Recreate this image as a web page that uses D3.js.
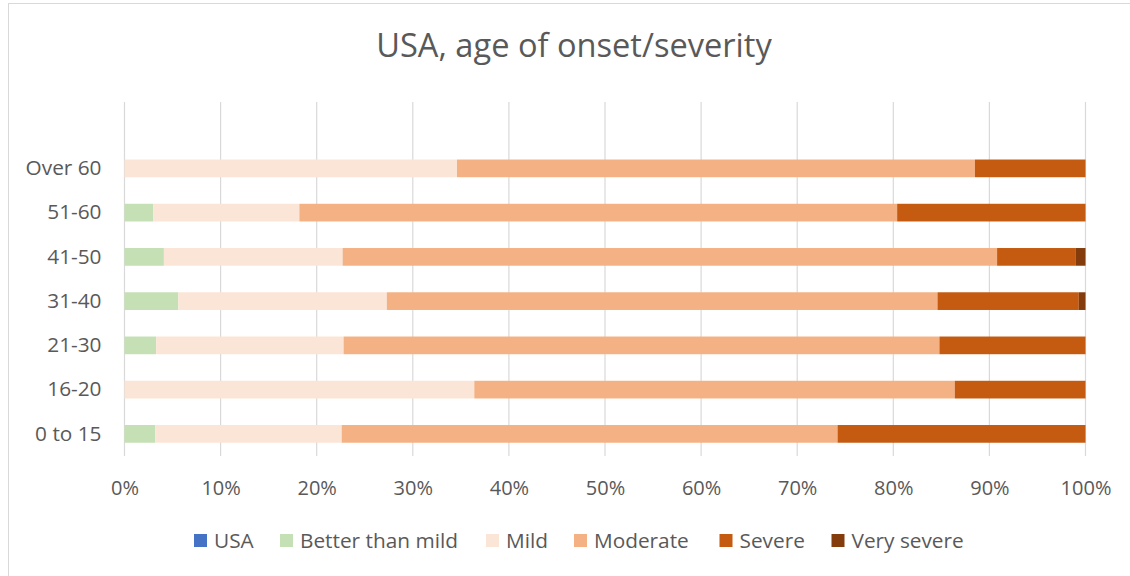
<!DOCTYPE html>
<html>
<head>
<meta charset="utf-8">
<script src="https://cdn.jsdelivr.net/npm/d3@7"></script>
<style>
  html, body { margin: 0; padding: 0; background: #fff; }
  svg { display: block; }
  text { font-family: "Open Sans", "Noto Sans", sans-serif; fill: #595959; }
</style>
</head>
<body>
<svg id="chart" width="1130" height="576"></svg>
<script>
// ---- data (percent of each age group) ----
const categories = ["", "Over 60", "51-60", "41-50", "31-40", "21-30", "16-20", "0 to 15"];
const seriesNames = ["USA", "Better than mild", "Mild", "Moderate", "Severe", "Very severe"];
const usa          = [0, 0,    0,    0,    0,    0,    0,    0];
const betterThanMild = [0, 0,  3.0,  4.1,  5.6,  3.3,  0,    3.2];
const mild         = [0, 34.6, 15.2, 18.6, 21.7, 19.5, 36.4, 19.4];
const moderate     = [0, 53.9, 62.2, 68.1, 57.3, 62.0, 50.0, 51.6];
const severe       = [0, 11.5, 19.6, 8.2,  14.7, 15.2, 13.6, 25.8];
const verySevere   = [0, 0,    0,    1.0,  0.7,  0,    0,    0];
const tickValues = [0, 0.1, 0.2, 0.3, 0.4, 0.5, 0.6, 0.7, 0.8, 0.9, 1.0];
const colors = ["#4472C4", "#C5E0B4", "#FBE5D6", "#F4B183", "#C55A11", "#843C0C"];

const seriesArrays = [usa, betterThanMild, mild, moderate, severe, verySevere];
const rows = categories.map((c, i) => {
  const r = { idx: i };
  seriesNames.forEach((s, j) => { r[s] = seriesArrays[j][i]; });
  return r;
});

const svg = d3.select("#chart");

// chart frame
svg.append("rect").attr("x", 8.5).attr("y", 3.5).attr("width", 1200).attr("height", 700)
  .attr("fill", "#fff").attr("stroke", "#d9d9d9").attr("stroke-width", 1);

const x = d3.scaleLinear().domain([0, 1]).range([124.5, 1085.5]);
const y = d3.scaleBand().domain(d3.range(categories.length)).range([102, 456]).paddingInner(0.6).paddingOuter(0.3);

// gridlines
svg.append("g").selectAll("line").data(tickValues).join("line")
  .attr("x1", d => x(d)).attr("x2", d => x(d))
  .attr("y1", 102).attr("y2", 456)
  .attr("stroke", "#d9d9d9").attr("stroke-width", 1.2);

// stacked bars (normalized to 100%)
const totals = rows.map(r => d3.sum(seriesNames, s => r[s]));
const stack = d3.stack().keys(seriesNames)
  .value((r, k) => totals[r.idx] ? r[k] / totals[r.idx] : 0);
const stacked = stack(rows);

svg.append("g").selectAll("g").data(stacked).join("g")
  .attr("fill", (d, i) => colors[i])
  .selectAll("rect").data(d => d).join("rect")
  .attr("x", d => x(d[0]))
  .attr("width", d => Math.max(0, x(d[1]) - x(d[0])))
  .attr("y", d => y(d.data.idx))
  .attr("height", y.bandwidth());

// x axis labels
const xAxis = d3.axisBottom(x).tickValues(tickValues).tickFormat(d3.format(".0%")).tickSize(0).tickPadding(0);
const gx = svg.append("g").attr("transform", "translate(0,481)").call(xAxis);
gx.select(".domain").remove();
gx.selectAll("text").attr("font-size", 20).attr("dy", "0.71em")
  .style("font-family", "'Open Sans', sans-serif").attr("fill", "#595959");

// y axis labels
const yAxis = d3.axisLeft(y).tickFormat(i => categories[i]).tickSize(0).tickPadding(23);
const gy = svg.append("g").attr("transform", "translate(124.5,0)").call(yAxis);
gy.select(".domain").remove();
gy.selectAll("text").attr("font-size", 20.8)
  .style("font-family", "'Open Sans', sans-serif").attr("fill", "#595959");

// title
svg.append("text").attr("x", 574).attr("y", 57).attr("text-anchor", "middle")
  .attr("font-size", 32.6).text("USA, age of onset/severity");

// legend
const legendX = [194, 280, 486, 574, 719.5, 831.5];
const lg = svg.append("g").selectAll("g").data(seriesNames).join("g")
  .attr("transform", (d, i) => `translate(${legendX[i]},534)`);
lg.append("rect").attr("width", 13).attr("height", 13).attr("fill", (d, i) => colors[i]);
lg.append("text").attr("x", 20).attr("y", 14).attr("font-size", 20.8).text(d => d);
</script>
</body>
</html>
